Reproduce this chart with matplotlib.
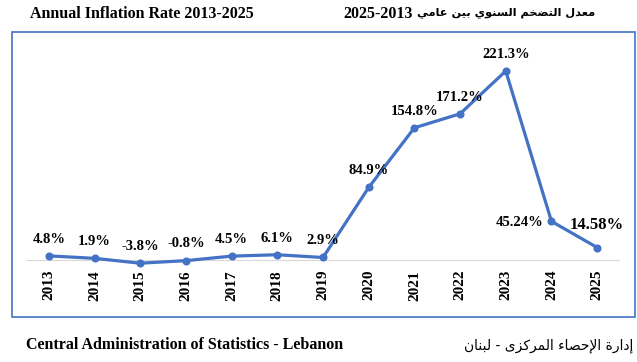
import matplotlib
matplotlib.use("Agg")
import matplotlib.pyplot as plt
from matplotlib.patches import Rectangle

# data
years = ["2013", "2014", "2015", "2016", "2017", "2018", "2019",
         "2020", "2021", "2022", "2023", "2024", "2025"]
rates = [4.8, 1.9, -3.8, -0.8, 4.5, 6.1, 2.9, 84.9, 154.8, 171.2, 221.3, 45.24, 14.58]
labels = ["4.8%", "1.9%", "-3.8%", "-0.8%", "4.5%", "6.1%", "2.9%",
          "84.9%", "154.8%", "171.2%", "221.3%", "45.24%", "14.58%"]

title_en = "Annual Inflation Rate 2013-2025"
title_ar = "معدل التضخم السنوي بين عامي"
title_ar_years = "2025-2013"
source_en = "Central Administration of Statistics - Lebanon"
source_ar = "إدارة الإحصاء المركزى - لبنان"

# minimal arabic shaping (matplotlib does no shaping / bidi)
# letter: (isolated, final, initial, medial); None = does not join to the left
FORMS = {
    "ا": (0xFE8D, 0xFE8E, None, None),
    "إ": (0xFE87, 0xFE88, None, None),
    "ب": (0xFE8F, 0xFE90, 0xFE91, 0xFE92),
    "ة": (0xFE93, 0xFE94, None, None),
    "ت": (0xFE95, 0xFE96, 0xFE97, 0xFE98),
    "ح": (0xFEA1, 0xFEA2, 0xFEA3, 0xFEA4),
    "خ": (0xFEA5, 0xFEA6, 0xFEA7, 0xFEA8),
    "د": (0xFEA9, 0xFEAA, None, None),
    "ر": (0xFEAD, 0xFEAE, None, None),
    "ز": (0xFEAF, 0xFEB0, None, None),
    "س": (0xFEB1, 0xFEB2, 0xFEB3, 0xFEB4),
    "ص": (0xFEB9, 0xFEBA, 0xFEBB, 0xFEBC),
    "ض": (0xFEBD, 0xFEBE, 0xFEBF, 0xFEC0),
    "ع": (0xFEC9, 0xFECA, 0xFECB, 0xFECC),
    "ك": (0xFED9, 0xFEDA, 0xFEDB, 0xFEDC),
    "ل": (0xFEDD, 0xFEDE, 0xFEDF, 0xFEE0),
    "م": (0xFEE1, 0xFEE2, 0xFEE3, 0xFEE4),
    "ن": (0xFEE5, 0xFEE6, 0xFEE7, 0xFEE8),
    "و": (0xFEED, 0xFEEE, None, None),
    "ى": (0xFEEF, 0xFEF0, None, None),
    "ي": (0xFEF1, 0xFEF2, 0xFEF3, 0xFEF4),
    "ء": (0xFE80, None, None, None),
}
LAMALEF = {"ا": (0xFEFB, 0xFEFC), "إ": (0xFEF9, 0xFEFA)}


def shape(text):
    out = []
    i = 0
    while i < len(text):
        c = text[i]
        if c not in FORMS:
            out.append(c)
            i += 1
            continue
        prev = text[i - 1] if i > 0 else ""
        joins_prev = prev in FORMS and FORMS[prev][2] is not None
        if c == "ل" and i + 1 < len(text) and text[i + 1] in LAMALEF:
            iso, fin = LAMALEF[text[i + 1]]
            out.append(chr(fin if joins_prev else iso))
            i += 2
            continue
        nxt = text[i + 1] if i + 1 < len(text) else ""
        joins_next = FORMS[c][2] is not None and nxt in FORMS and FORMS[nxt][1] is not None
        iso, fin, ini, med = FORMS[c]
        if joins_prev and joins_next:
            code = med
        elif joins_prev:
            code = fin
        elif joins_next:
            code = ini
        else:
            code = iso
        out.append(chr(code))
        i += 1
    # visual order, right to left
    return "".join(out)[::-1]


plt.rcParams["font.family"] = ["Liberation Serif", "DejaVu Serif"]

W, H = 637, 362
fig = plt.figure(figsize=(W / 100, H / 100), dpi=100)

# axes placed in pixels: x 26..620, y 46.5..268.5 (ylim -10..250)
ax = fig.add_axes([26 / W, 1 - 268.5 / H, (620 - 26) / W, (268.5 - 46.5) / H])
x = list(range(len(years)))
ax.plot(x, rates, color="#4472C4", lw=2.3, marker="o", ms=4.8, zorder=3)
ax.axhline(0, color="#D9D9D9", lw=0.8, zorder=1)
ax.set_xlim(-0.5, len(years) - 0.5)
ax.set_ylim(-10, 250)
ax.set_xticks(x)
ax.set_xticklabels(years, rotation=90, fontsize=11, fontweight="bold")
ax.tick_params(axis="x", length=0, pad=1)
ax.set_yticks([])
for s in ax.spines.values():
    s.set_visible(False)
ax.patch.set_alpha(0)

for i, (v, lab) in enumerate(zip(rates, labels)):
    if years[i] == "2024":
        ax.annotate(lab, (i, v), xytext=(-5.5, -1), textcoords="offset points",
                    ha="right", va="center", fontsize=10.5, fontweight="bold")
    elif years[i] == "2025":
        ax.annotate(lab, (i, v), xytext=(0, 13), textcoords="offset points",
                    ha="center", va="baseline", fontsize=12, fontweight="bold")
    else:
        ax.annotate(lab, (i, v), xytext=(0, 9.5), textcoords="offset points",
                    ha="center", va="baseline", fontsize=10.5, fontweight="bold")

# frame around chart area
fig.patches.append(Rectangle((12 / W, 1 - 317 / H), (635 - 12) / W, (317 - 32) / H,
                             transform=fig.transFigure, fill=False,
                             edgecolor="#4472C4", lw=1.2))

fig.text(30 / W, 1 - 14 / H, title_en, ha="left", va="center",
         fontsize=11.5, fontweight="bold")
ar = fig.text(595 / W, 1 - 13 / H, shape(title_ar), ha="right", va="center",
              fontsize=8.2, fontweight="bold", family=["DejaVu Sans"])
# years go just left of the arabic words
bb = ar.get_window_extent(renderer=fig.canvas.get_renderer())
fig.text((bb.x0 - 4) / W, 1 - 14 / H, title_ar_years, ha="right", va="center",
         fontsize=11.5, fontweight="bold")
fig.text(26 / W, 1 - 345 / H, source_en, ha="left", va="center",
         fontsize=11.5, fontweight="bold")
fig.text(633 / W, 1 - 346 / H, shape(source_ar), ha="right", va="center",
         fontsize=10, family=["DejaVu Sans"])

fig.savefig("out.png", dpi=100)
